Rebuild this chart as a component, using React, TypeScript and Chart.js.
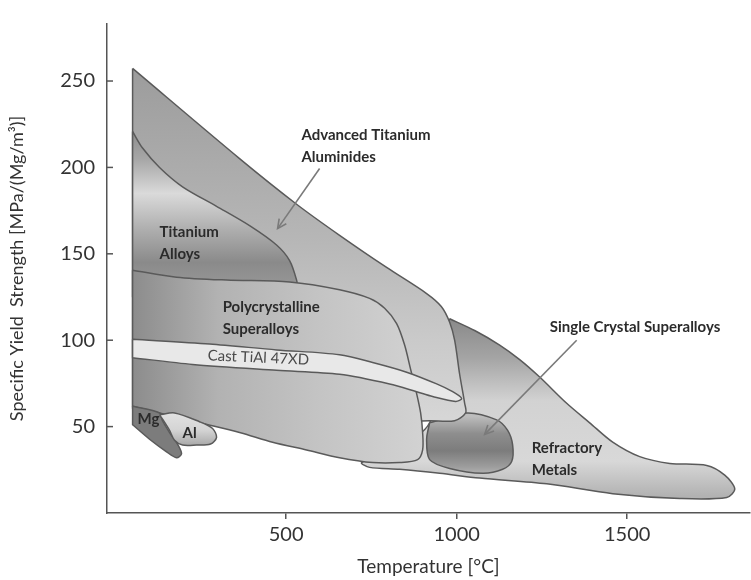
import React, { useEffect, useRef } from 'react';
import { Chart, registerables } from 'chart.js';

Chart.register(...registerables);

// ---- axis ticks ----
const xTickValues = [500, 1000, 1500];
const yTickValues = [50, 100, 150, 200, 250];

// ---- region outlines (temperature °C, specific yield strength) ----
// duplicated vertices mark sharp corners
const refractoryMetals: [number, number][] = [
  [979.5, 112.4], [979.5, 112.4], [1052.8, 105.6], [1126.1, 97.2], [1184.8, 88.8], [1243.4, 78.7],
  [1322.6, 63.5], [1390.1, 52.2], [1457.5, 41.0], [1536.7, 32.6], [1624.7, 28.7], [1733.2, 27.5],
  [1786, 21.9], [1815.3, 14.0], [1791.8, 9.0], [1654, 8.4], [1457.5, 11.2], [1264, 16.9],
  [1067.5, 20.2], [950.2, 23.0], [832.9, 25.3], [744.9, 26.4], [721.4, 29.2], [803.5, 35.4],
  [920.8, 52.2], [964.8, 102.8], [979.5, 112.4],
];

const singleCrystal: [number, number][] = [
  [920.8, 52.2], [1029.3, 57.9], [1117.3, 53.9], [1149.6, 47.8], [1164.2, 39.3], [1161.3, 29.8],
  [1134.9, 25.3], [1076.3, 23.0], [979.5, 25.8], [920.8, 30.9], [912, 42.7], [920.8, 52.2],
];

const titaniumAluminides: [number, number][] = [
  [50, 257.3], [50, 257.3], [363.6, 205.1], [530.8, 178.7], [656.9, 160.7], [794.7, 142.1],
  [912.0, 127.0], [955, 119.5], [979.5, 110.4], [994.1, 100.0], [1008.8, 80.3], [1023.5, 63.5],
  [1026.4, 57.9], [994, 53.4], [920.8, 53.4], [539.6, 52.2], [246.3, 54.5], [50, 60.7], [50, 60.7],
  [50, 257.3],
];

const titaniumAlloys: [number, number][] = [
  [50, 220.8], [50, 220.8], [79.2, 211.2], [129, 200], [196.5, 188.8], [296.2, 177.5], [393, 166.3],
  [472.1, 155.1], [510.3, 146.1], [530.8, 134.8], [539.6, 125.3], [539.6, 125.3], [50, 125.3],
  [50, 125.3], [50, 220.8],
];

const polySuperalloys: [number, number][] = [
  [50, 140.5], [50, 140.5], [178.9, 136.5], [325.5, 134.8], [510.3, 133.7], [656.9, 129.2],
  [744.9, 124.2], [788.9, 118.5], [824.1, 109.6], [847.5, 97.2], [865.1, 83.1], [882.7, 69.1],
  [894.4, 57.9], [900.3, 46.6], [900.3, 36.5], [885.6, 30.9], [832.9, 29.2], [753.7, 29.2],
  [656.9, 32.0], [560.1, 36.5], [460.4, 41.0], [363.6, 46.6], [246.3, 52.2], [129, 57.9],
  [50, 61.8], [50, 61.8], [50, 140.5],
];

const castTiAl: [number, number][] = [
  [50, 100.6], [50, 100.6], [275.7, 97.8], [472.1, 94.4], [656.9, 91.6], [753.7, 87.1], [853.4, 81.5],
  [941.4, 74.7], [988.3, 70.2], [1014.7, 66.3], [997.1, 64.6], [929.6, 67.4], [882.7, 70.2],
  [803.5, 74.7], [656.9, 80.3], [472.1, 82.6], [225.8, 86.0], [50, 89.9], [50, 89.9], [50, 100.6],
];

const magnesium: [number, number][] = [
  [50, 61.8], [50, 61.8], [129, 57.9], [137.8, 53.4], [158.4, 46.6], [181.8, 39.9], [193.6, 34.3],
  [178.9, 32.0], [149.6, 35.4], [99.7, 42.7], [50, 51.1], [50, 51.1], [50, 61.8],
];

const aluminium: [number, number][] = [
  [129, 56.7], [173, 57.9], [246.3, 52.8], [284.5, 48.9], [296.2, 43.8], [278.6, 39.9], [237.5, 39.3],
  [196.5, 39.3], [173, 42.1], [158.4, 47.8], [140.8, 53.4], [129, 56.7],
];

// ---- annotation labels & arrows (data coordinates) ----
const regionLabels = [
  { lines: ['Advanced Titanium', 'Aluminides'], x: 545, y: 218.5, bold: true },
  { lines: ['Titanium', 'Alloys'], x: 129, y: 162.4, bold: true },
  { lines: ['Polycrystalline', 'Superalloys'], x: 314, y: 119.1, bold: true },
  { lines: ['Cast TiAl 47XD'], x: 270, y: 91.2, bold: false, rotate: 2.5 },
  { lines: ['Single Crystal Superalloys'], x: 1273, y: 107.3, bold: true },
  { lines: ['Refractory', 'Metals'], x: 1220, y: 37.6, bold: true },
  { lines: ['Mg'], x: 64.5, y: 54.5, bold: true },
  { lines: ['Al'], x: 196.5, y: 46.1, bold: true },
];

const arrows = [
  { from: [598.3, 199.4], to: [475.1, 164.6] },
  { from: [1351.9, 100.0], to: [1082.1, 45.5] },
];

type Stop = [number, string];

function vGrad(stops: Stop[]) {
  return (ctx: any) => {
    const chart = ctx.chart;
    const ys = chart.scales && chart.scales.y;
    if (!chart.chartArea || !ys) return stops[0][1];
    const p0 = ys.getPixelForValue(stops[0][0]);
    const p1 = ys.getPixelForValue(stops[stops.length - 1][0]);
    const g = chart.ctx.createLinearGradient(0, p0, 0, p1);
    stops.forEach(([v, c]) => {
      const t = (ys.getPixelForValue(v) - p0) / (p1 - p0);
      g.addColorStop(Math.min(1, Math.max(0, t)), c);
    });
    return g;
  };
}

function hGrad(stops: Stop[]) {
  return (ctx: any) => {
    const chart = ctx.chart;
    const xs = chart.scales && chart.scales.x;
    if (!chart.chartArea || !xs) return stops[0][1];
    const p0 = xs.getPixelForValue(stops[0][0]);
    const p1 = xs.getPixelForValue(stops[stops.length - 1][0]);
    const g = chart.ctx.createLinearGradient(p0, 0, p1, 0);
    stops.forEach(([v, c]) => {
      const t = (xs.getPixelForValue(v) - p0) / (p1 - p0);
      g.addColorStop(Math.min(1, Math.max(0, t)), c);
    });
    return g;
  };
}

const OUTLINE = '#5a5a5a';

function region(label: string, pts: [number, number][], bg: any, order: number) {
  return {
    label,
    data: pts.map(([x, y]) => ({ x, y })),
    showLine: true,
    fill: 'shape',
    backgroundColor: bg,
    borderColor: OUTLINE,
    borderWidth: 1.5,
    pointRadius: 0,
    pointHoverRadius: 0,
    tension: 0.3,
    order,
  };
}

const annotationPlugin = {
  id: 'annotations',
  afterDatasetsDraw(chart: any) {
    const { ctx, chartArea, scales } = chart;
    const xs = scales.x;
    const ys = scales.y;
    ctx.save();
    // inward y tick marks
    ctx.strokeStyle = '#555';
    ctx.lineWidth = 1.5;
    yTickValues.forEach((v) => {
      const py = ys.getPixelForValue(v);
      ctx.beginPath();
      ctx.moveTo(chartArea.left, py);
      ctx.lineTo(chartArea.left + 6, py);
      ctx.stroke();
    });
    // arrows
    ctx.strokeStyle = '#7a7a7a';
    ctx.lineWidth = 1.6;
    arrows.forEach((a) => {
      const x0 = xs.getPixelForValue(a.from[0]);
      const y0 = ys.getPixelForValue(a.from[1]);
      const x1 = xs.getPixelForValue(a.to[0]);
      const y1 = ys.getPixelForValue(a.to[1]);
      ctx.beginPath();
      ctx.moveTo(x0, y0);
      ctx.lineTo(x1, y1);
      ctx.stroke();
      const ang = Math.atan2(y1 - y0, x1 - x0);
      const L = 10;
      ctx.beginPath();
      ctx.moveTo(x1 - L * Math.cos(ang - 0.45), y1 - L * Math.sin(ang - 0.45));
      ctx.lineTo(x1, y1);
      ctx.lineTo(x1 - L * Math.cos(ang + 0.45), y1 - L * Math.sin(ang + 0.45));
      ctx.stroke();
    });
    // labels
    regionLabels.forEach((l: any) => {
      const px = xs.getPixelForValue(l.x);
      const py = ys.getPixelForValue(l.y);
      ctx.save();
      ctx.translate(px, py);
      if (l.rotate) ctx.rotate((l.rotate * Math.PI) / 180);
      ctx.font = l.bold ? 'bold 15px Lato' : '15px Lato';
      ctx.fillStyle = l.bold ? '#2b2b2b' : '#4a4a4a';
      ctx.textAlign = 'left';
      ctx.textBaseline = 'middle';
      l.lines.forEach((t: string, i: number) => {
        ctx.fillText(t, 0, i * 22);
      });
      ctx.restore();
    });
    ctx.restore();
  },
};

export default function App() {
  const ref = useRef<HTMLCanvasElement>(null);

  useEffect(() => {
    document.body.style.margin = '0';
    const canvas = ref.current;
    if (!canvas) return;
    const datasets = [
      region('Refractory Metals', refractoryMetals,
        vGrad([[112, '#8a8a8a'], [90, '#a4a4a4'], [65, '#d2d2d2'], [30, '#d8d8d8'], [10, '#b2b2b2']]), 8),
      region('Single Crystal Superalloys', singleCrystal,
        vGrad([[56, '#bdbdbd'], [46, '#8e8e8e'], [36, '#7c7c7c'], [27, '#9c9c9c'], [22, '#b4b4b4']]), 7),
      region('Advanced Titanium Aluminides', titaniumAluminides,
        vGrad([[257, '#9c9c9c'], [160, '#b6b6b6'], [100, '#cacaca'], [55, '#d6d6d6']]), 6),
      region('Titanium Alloys', titaniumAlloys,
        vGrad([[221, '#8e8e8e'], [205, '#a6a6a6'], [185, '#dadada'], [165, '#b0b0b0'], [145, '#8a8a8a'], [126, '#9c9c9c']]), 5),
      region('Polycrystalline Superalloys', polySuperalloys,
        hGrad([[50, '#8c8c8c'], [300, '#b2b2b2'], [600, '#c4c4c4'], [900, '#d2d2d2']]), 4),
      region('Cast TiAl 47XD', castTiAl, '#e8e8e8', 3),
      region('Mg', magnesium, '#7c7c7c', 2),
      region('Al', aluminium,
        vGrad([[58, '#e2e2e2'], [48, '#d4d4d4'], [39, '#a8a8a8']]), 1),
    ];

    const chart = new Chart(canvas, {
      type: 'scatter',
      data: { datasets: datasets as any },
      plugins: [annotationPlugin],
      options: {
        responsive: false,
        animation: false,
        layout: { padding: { top: 9, right: 1, left: 0, bottom: 0 } },
        plugins: { legend: { display: false }, tooltip: { enabled: false } },
        scales: {
          x: {
            type: 'linear',
            min: -25,
            max: 1860,
            afterBuildTicks: (s: any) => { s.ticks = xTickValues.map((v) => ({ value: v })); },
            afterFit: (s: any) => { s.height = 67; },
            ticks: {
              font: { family: 'Lato', size: 20 },
              color: '#333',
              padding: 4,
              maxRotation: 0,
              callback: (v: any) => String(v),
            },
            grid: { display: true, drawOnChartArea: false, drawTicks: true, tickLength: 6, color: '#555', lineWidth: 1.5 },
            border: { display: true, color: '#555', width: 1.5 },
            title: {
              display: true,
              text: 'Temperature [°C]',
              font: { family: 'Lato', size: 19 },
              color: '#333',
              padding: { top: 0, bottom: 2 },
            },
          },
          y: {
            type: 'linear',
            min: 0,
            max: 283,
            afterBuildTicks: (s: any) => { s.ticks = yTickValues.map((v) => ({ value: v })); },
            afterFit: (s: any) => { s.width = 107; },
            ticks: {
              font: { family: 'Lato', size: 20 },
              color: '#333',
              padding: 12,
              callback: (v: any) => String(v),
            },
            grid: { display: true, drawOnChartArea: false, drawTicks: false, color: '#555' },
            border: { display: true, color: '#555', width: 1.5 },
            title: {
              display: true,
              text: 'Specific Yield  Strength [MPa/(Mg/m³)]',
              font: { family: 'Lato', size: 18 },
              color: '#333',
              padding: { top: 6, bottom: 0 },
            },
          },
        },
      },
    });
    return () => chart.destroy();
  }, []);

  return (
    <div style={{ width: 751, height: 580, background: '#fff' }}>
      <canvas ref={ref} width={751} height={580} />
    </div>
  );
}
